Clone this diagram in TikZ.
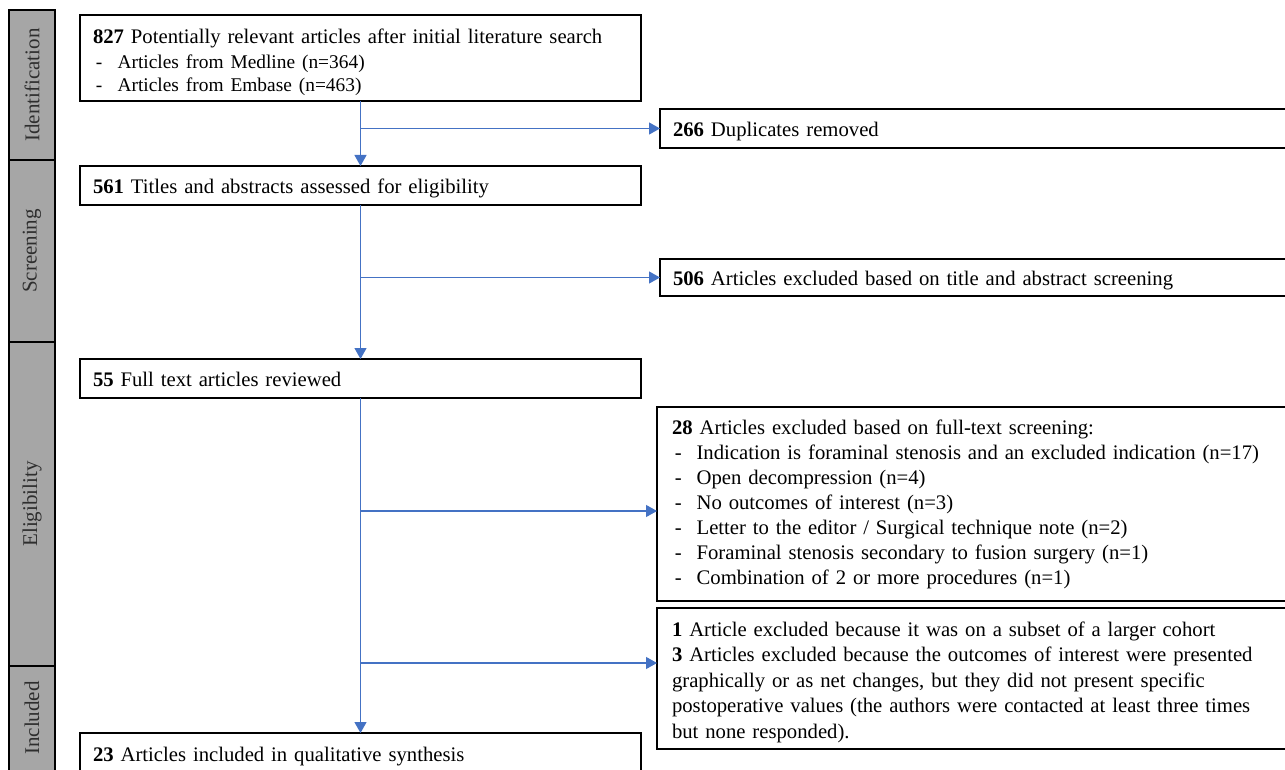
\documentclass[tikz,border=0pt]{standalone}
\usepackage{fontspec}
\setmainfont{Liberation Serif}
\usetikzlibrary{arrows.meta}
\definecolor{arrblue}{HTML}{4472C4}
\definecolor{sidegray}{HTML}{A6A6A6}
\definecolor{sidetxt}{HTML}{2E2E2E}
\newcommand{\dashitem}{\makebox[12.3pt][l]{\hspace{1.4pt}-}}
\begin{document}
\begin{tikzpicture}[x=0.5pt,y=-0.5pt,
  box/.style={draw=black, line width=1pt, fill=white, anchor=north west, align=left,
    inner ysep=0pt, outer sep=0pt, font=\fontsize{10.35pt}{12.5pt}\selectfont},
  lbox/.style={box, inner xsep=6.5pt, text width=267.5pt},
  rbox/.style={box, inner xsep=7.5pt, text width=305pt},
  oneline/.style={text height=9pt, text depth=1pt},
  sidebox/.style={draw=black, line width=0.6pt, fill=sidegray},
  sidetext/.style={rotate=90, text=sidetxt, font=\fontsize{10.5pt}{12.5pt}\selectfont},
  arr/.style={draw=arrblue, line width=0.6pt, -{Triangle[length=5.5pt,width=6pt]}}
]
\useasboundingbox (0,0) rectangle (1285,770);
\clip (0,0) rectangle (1285,770);

% sidebar
\draw[sidebox] (9,10) rectangle (55,160);
\draw[sidebox] (9,160) rectangle (55,342);
\draw[sidebox] (9,342) rectangle (55,666);
\draw[sidebox] (9,666) rectangle (55,790);
\node[sidetext] (sIdent) at (32,85) {Identification};
\node[sidetext] (sScreen) at (32,251) {Screening};
\node[sidetext] (sElig) at (32,504) {Eligibility};
\node[sidetext] (sIncl) at (32,718) {Included};

% boxes
\node[lbox, minimum height=43pt] (b827) at (80,15)
  {\rule{0pt}{11.3pt}\textbf{827} Potentially relevant articles after initial literature search\\[1pt]
   {\fontsize{9.7pt}{11.6pt}\selectfont\dashitem Articles from Medline (n=364)\\
   \dashitem Articles from Embase (n=463)\par}};
\node[rbox, oneline, inner xsep=6.5pt, minimum height=19.5pt] (b266) at (660,109)
  {\textbf{266} Duplicates removed};
\node[lbox, oneline, minimum height=19.5pt] (b561) at (80,166)
  {\textbf{561} Titles and abstracts assessed for eligibility};
\node[rbox, oneline, inner xsep=6.5pt, minimum height=18.5pt] (b506) at (660,259)
  {\textbf{506} Articles excluded based on title and abstract screening};
\node[lbox, oneline, minimum height=19.5pt] (b55) at (80,359)
  {\textbf{55} Full text articles reviewed};
\node[rbox, minimum height=97pt] (b28) at (657,407)
  {\textbf{28} Articles excluded based on full-text screening:\\
   \dashitem Indication is foraminal stenosis and an excluded indication (n=17)\\
   \dashitem Open decompression (n=4)\\
   \dashitem No outcomes of interest (n=3)\\
   \dashitem Letter to the editor / Surgical technique note (n=2)\\
   \dashitem Foraminal stenosis secondary to fusion surgery (n=1)\\
   \dashitem Combination of 2 or more procedures (n=1)};
\node[rbox, minimum height=70.5pt, font=\fontsize{10.35pt}{12.8pt}\selectfont] (b13) at (657,608)
  {\rule{0pt}{11pt}\textbf{1} Article excluded because it was on a subset of a larger cohort\\
   \textbf{3} Articles excluded because the outcomes of interest were presented\\
   graphically or as net changes, but they did not present specific\\
   postoperative values (the authors were contacted at least three times\\
   but none responded).};
\node[lbox, oneline, minimum height=20pt] (b23) at (80,733)
  {\textbf{23} Articles included in qualitative synthesis};

% connectors
\draw[arr] (b827.south) -- (b561.north);
\draw[arr] (b561.south) -- (b55.north);
\draw[arr] (b55.south) -- (b23.north);
\draw[arr] (b827.south |- b266.west) -- (b266.west);
\draw[arr] (b561.south |- b506.west) -- (b506.west);
\coordinate (j28) at (360.5,511);
\coordinate (j13) at (360.5,663);
\draw[arr] (j28) -- (j28 -| b28.west);
\draw[arr] (j13) -- (j13 -| b13.west);
\end{tikzpicture}
\end{document}
